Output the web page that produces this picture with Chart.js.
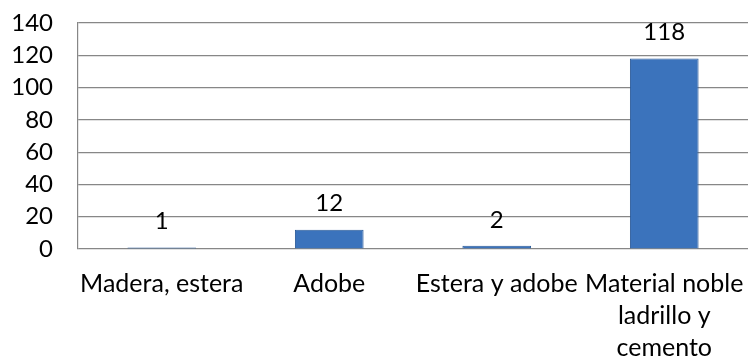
<!DOCTYPE html>
<html>
<head>
<meta charset="utf-8">
<script src="https://cdn.jsdelivr.net/npm/chart.js@4/dist/chart.umd.min.js"></script>
<style>
  html, body { margin: 0; padding: 0; background: #fff; }
  #wrap { width: 748px; height: 359px; }
</style>
</head>
<body>
<div id="wrap"><canvas id="grafico"></canvas></div>
<script>
// Categorías y valores
const categorias = [
  'Madera, estera',
  'Adobe',
  'Estera y adobe',
  ['Material noble', 'ladrillo y', 'cemento']
];
const viviendas = [1, 12, 2, 118];
const ticksY = [0, 20, 40, 60, 80, 100, 120, 140];

const fuente = 'Lato, "Open Sans", sans-serif';

// Degradado horizontal para cada barra
function colorBarra(context) {
  const chart = context.chart;
  const el = context.element;
  if (!el || !chart.chartArea || !isFinite(el.x) || !isFinite(el.width) || el.width <= 0) {
    return '#3b73bc';
  }
  const half = el.width / 2;
  const g = chart.ctx.createLinearGradient(el.x - half, 0, el.x + half, 0);
  g.addColorStop(0, '#2d5f9f');
  g.addColorStop(0.12, '#3670bb');
  g.addColorStop(0.5, '#3d7ac8');
  g.addColorStop(0.88, '#3670bb');
  g.addColorStop(1, '#2d5f9f');
  return g;
}

// Etiquetas de valor encima de las barras
const etiquetas = {
  id: 'etiquetas',
  afterDatasetsDraw(chart) {
    const ctx = chart.ctx;
    const meta = chart.getDatasetMeta(0);
    ctx.save();
    ctx.font = '24px ' + fuente;
    ctx.fillStyle = '#000';
    ctx.textAlign = 'center';
    ctx.textBaseline = 'middle';
    meta.data.forEach((bar, i) => {
      ctx.fillText(String(viviendas[i]), bar.x, bar.y - 26);
    });
    ctx.restore();
  }
};

const ctx = document.getElementById('grafico').getContext('2d');

const grafico = new Chart(ctx, {
  type: 'bar',
  data: {
    labels: categorias,
    datasets: [{
      data: viviendas,
      backgroundColor: colorBarra,
      borderColor: '#2a5a98',
      borderWidth: 1,
      barPercentage: 0.41,
      categoryPercentage: 1
    }]
  },
  options: {
    responsive: true,
    maintainAspectRatio: false,
    animation: false,
    layout: { padding: { top: 23, right: 0, left: 0, bottom: 0 } },
    plugins: {
      legend: { display: false },
      tooltip: { enabled: false }
    },
    scales: {
      x: {
        grid: { display: false, drawTicks: false },
        border: { display: false },
        ticks: {
          color: '#000',
          padding: 19,
          maxRotation: 0,
          autoSkip: false,
          font: { family: fuente, size: 25, lineHeight: 1.28 }
        },
        afterFit(scale) {
          scale.height = 110;
          scale.paddingLeft = 0;
          scale.paddingRight = 0;
        }
      },
      y: {
        min: 0,
        max: 140,
        afterBuildTicks(scale) { scale.ticks = ticksY.map(v => ({ value: v })); },
        grid: { color: '#878787', lineWidth: 1.2, drawTicks: false },
        border: { display: true, color: '#878787', width: 1.2 },
        ticks: {
          color: '#000',
          padding: 25,
          font: { family: fuente, size: 24 }
        },
        afterFit(scale) {
          scale.width = 78;
          scale.paddingTop = 0;
          scale.paddingBottom = 0;
        }
      }
    }
  },
  plugins: [etiquetas]
});
</script>
</body>
</html>
